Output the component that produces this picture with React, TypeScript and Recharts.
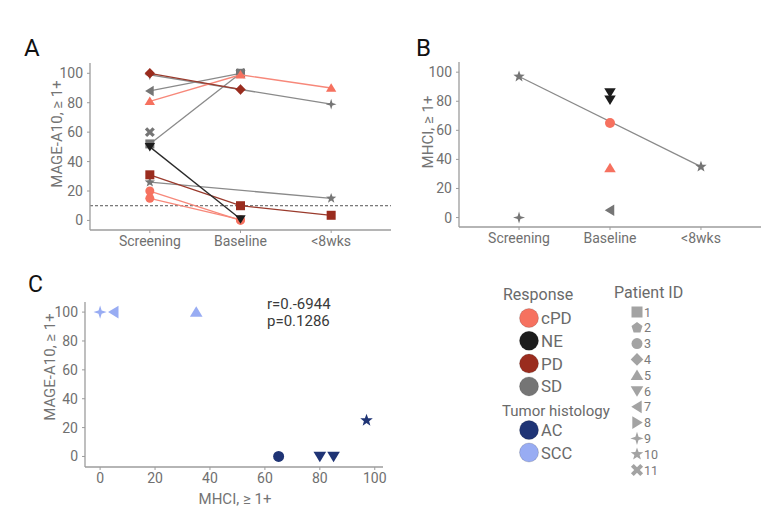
import React from 'react'
import {
  ScatterChart,
  Scatter,
  XAxis,
  YAxis,
  ReferenceLine,
} from 'recharts'

// time points used by panels A and B
const timepoints = ['Screening', 'Baseline', '<8wks']

// panel A: MAGE-A10 (% cells >= 1+) per patient over time
const mageP1 = [31, 10, 3.5]
const mageP3a = [20, 0, null]
const mageP3b = [15, 0.5, null]
const mageP4 = [100, 89, null]
const mageP5 = [81, 99, 90]
const mageP6 = [50, 1, null]
const mageP7 = [88, 100, null]
const mageP9 = [99, 89, 79]
const mageP10 = [26, null, 15]
const mageP11 = [52, 100, null]
const mageP11x = [60, 100, null]
const mageThreshold = 10

// panel B: MHCI per patient over time
const mhciP10 = [97, null, 35]
const mhciP9 = [0, null, null]
const mhciP7 = [null, 5, null]
const mhciP6a = [null, 86, null]
const mhciP6b = [null, 81, null]
const mhciP3 = [null, 65, null]
const mhciP5 = [null, 34, null]

// panel C: MHCI vs MAGE-A10
const cPatient = [9, 7, 5, 3, 6, 6, 10]
const cHistology = ['SCC', 'SCC', 'SCC', 'AC', 'AC', 'AC', 'AC']
const cMhci = [0, 5, 35, 65, 80, 85, 97]
const cMage = [100, 100, 100, 0, 0, 0, 25]

const responses = ['cPD', 'NE', 'PD', 'SD']
const histologies = ['AC', 'SCC']
const patientIds = [1, 2, 3, 4, 5, 6, 7, 8, 9, 10, 11]

const colors: Record<string, string> = {
  cPD: '#f6715f',
  NE: '#1c1c1c',
  PD: '#9a2c1e',
  SD: '#757575',
  AC: '#1f3475',
  SCC: '#98acf3',
}
const lineColors: Record<string, string> = {
  cPD: '#f7887a',
  NE: '#2a2a2a',
  PD: '#9a3a2c',
  SD: '#8a8a8a',
}

const shapeOf: Record<number, string> = {
  1: 'square',
  2: 'pentagon',
  3: 'circle',
  4: 'diamond',
  5: 'up',
  6: 'down',
  7: 'left',
  8: 'right',
  9: 'sparkle',
  10: 'star',
  11: 'cross',
}

function starPoints(cx: number, cy: number, n: number, outer: number, inner: number) {
  const pts: string[] = []
  for (let i = 0; i < n * 2; i++) {
    const r = i % 2 === 0 ? outer : inner
    const a = -Math.PI / 2 + (i * Math.PI) / n
    pts.push(`${cx + r * Math.cos(a)},${cy + r * Math.sin(a)}`)
  }
  return pts.join(' ')
}

function Marker({ kind, cx, cy, s, fill }: { kind: string; cx: number; cy: number; s: number; fill: string }) {
  const h = s / 2
  switch (kind) {
    case 'square':
      return <rect x={cx - h} y={cy - h} width={s} height={s} fill={fill} />
    case 'circle':
      return <circle cx={cx} cy={cy} r={h} fill={fill} />
    case 'diamond': {
      const d = h * 1.15
      return <polygon points={`${cx},${cy - d} ${cx + d},${cy} ${cx},${cy + d} ${cx - d},${cy}`} fill={fill} />
    }
    case 'up':
      return <polygon points={`${cx},${cy - h * 1.05} ${cx + h * 1.15},${cy + h * 0.85} ${cx - h * 1.15},${cy + h * 0.85}`} fill={fill} />
    case 'down':
      return <polygon points={`${cx},${cy + h * 1.05} ${cx + h * 1.15},${cy - h * 0.85} ${cx - h * 1.15},${cy - h * 0.85}`} fill={fill} />
    case 'left':
      return <polygon points={`${cx - h * 1.05},${cy} ${cx + h * 0.85},${cy - h * 1.15} ${cx + h * 0.85},${cy + h * 1.15}`} fill={fill} />
    case 'right':
      return <polygon points={`${cx + h * 1.05},${cy} ${cx - h * 0.85},${cy - h * 1.15} ${cx - h * 0.85},${cy + h * 1.15}`} fill={fill} />
    case 'sparkle':
      return <polygon points={starPoints(cx, cy, 4, h * 1.2, h * 0.4)} fill={fill} />
    case 'star':
      return <polygon points={starPoints(cx, cy, 5, h * 1.2, h * 0.5)} fill={fill} />
    case 'pentagon':
      return <polygon points={starPoints(cx, cy, 5, h * 1.05, h * 1.05 * Math.cos(Math.PI / 5))} fill={fill} />
    case 'cross': {
      const d = h * 0.85
      return (
        <g stroke={fill} strokeWidth={s * 0.36}>
          <line x1={cx - d} y1={cy - d} x2={cx + d} y2={cy + d} />
          <line x1={cx - d} y1={cy + d} x2={cx + d} y2={cy - d} />
        </g>
      )
    }
    default:
      return null
  }
}

const toPoints = (vals: (number | null)[]) =>
  vals.flatMap((y, i) => (y == null ? [] : [{ x: i + 1, y }]))

interface TimeSeries {
  values: (number | null)[]
  patient: number
  response: string
  line: boolean
}

const panelA: TimeSeries[] = [
  { values: mageP7, patient: 7, response: 'SD', line: true },
  { values: mageP9, patient: 9, response: 'SD', line: true },
  { values: mageP10, patient: 10, response: 'SD', line: true },
  { values: mageP11, patient: 1, response: 'SD', line: true },
  { values: mageP11x, patient: 11, response: 'SD', line: false },
  { values: mageP3a, patient: 3, response: 'cPD', line: true },
  { values: mageP3b, patient: 3, response: 'cPD', line: true },
  { values: mageP5, patient: 5, response: 'cPD', line: true },
  { values: mageP1, patient: 1, response: 'PD', line: true },
  { values: mageP4, patient: 4, response: 'PD', line: true },
  { values: mageP6, patient: 6, response: 'NE', line: true },
]

const panelB: TimeSeries[] = [
  { values: mhciP10, patient: 10, response: 'SD', line: true },
  { values: mhciP9, patient: 9, response: 'SD', line: false },
  { values: mhciP7, patient: 7, response: 'SD', line: false },
  { values: mhciP6a, patient: 6, response: 'NE', line: false },
  { values: mhciP6b, patient: 6, response: 'NE', line: false },
  { values: mhciP3, patient: 3, response: 'cPD', line: false },
  { values: mhciP5, patient: 5, response: 'cPD', line: false },
]

const cTable = cMhci.map((x, i) => ({ x, y: cMage[i], patient: cPatient[i], histology: cHistology[i] }))

const axisColor = '#9c9c9c'
const tickStyle = { fill: '#707070', fontSize: 14, fontFamily: 'Roboto' }
const yTicks = [0, 20, 40, 60, 80, 100]

function TimeChart({ series, width, height, margin, xHeight, size, refY }: {
  series: TimeSeries[]
  width: number
  height: number
  margin: { top: number; right: number; bottom: number; left: number }
  xHeight: number
  size: number
  refY?: number
}) {
  return (
    <ScatterChart width={width} height={height} margin={margin}>
      <XAxis
        type="number"
        dataKey="x"
        domain={[0.34, 3.66]}
        ticks={[1, 2, 3]}
        allowDataOverflow
        tickFormatter={(v: number) => timepoints[v - 1] ?? ''}
        height={xHeight}
        axisLine={{ stroke: axisColor, strokeWidth: 1.3 }}
        tickLine={{ stroke: axisColor }}
        tickSize={3}
        tickMargin={3}
        tick={tickStyle}
      />
      <YAxis
        type="number"
        dataKey="y"
        domain={[-6.5, 107]}
        ticks={yTicks}
        allowDataOverflow
        width={40}
        axisLine={{ stroke: axisColor, strokeWidth: 1.3 }}
        tickLine={{ stroke: axisColor }}
        tickSize={3}
        tickMargin={4}
        tick={tickStyle}
      />
      {refY != null && (
        <ReferenceLine y={refY} stroke="#555" strokeDasharray="3 2" strokeWidth={1} />
      )}
      {series.map((s, i) => (
        <Scatter
          key={i}
          data={toPoints(s.values)}
          isAnimationActive={false}
          line={s.line ? { stroke: lineColors[s.response], strokeWidth: 1.3 } : false}
          shape={(p: any) => (
            <Marker kind={shapeOf[s.patient]} cx={p.cx} cy={p.cy} s={size} fill={colors[s.response]} />
          )}
        />
      ))}
    </ScatterChart>
  )
}

export default function App() {
  const font = 'Roboto, "Noto Sans", sans-serif'
  return (
    <div style={{ position: 'absolute', left: 0, top: 0, width: 776, height: 523, background: '#fff', fontFamily: font }}>
      {/* A */}
      <div style={{ position: 'absolute', left: 0, top: 0 }}>
        <TimeChart
          series={panelA}
          width={400}
          height={260}
          margin={{ top: 63, right: 9, bottom: 0, left: 50 }}
          xHeight={30}
          size={9}
          refY={mageThreshold}
        />
      </div>
      {/* B */}
      <div style={{ position: 'absolute', left: 400, top: 0 }}>
        <TimeChart
          series={panelB}
          width={370}
          height={260}
          margin={{ top: 62, right: 9, bottom: 0, left: 19 }}
          xHeight={33}
          size={10}
        />
      </div>
      {/* C */}
      <div style={{ position: 'absolute', left: 0, top: 260 }}>
        <ScatterChart width={400} height={260} margin={{ top: 42, right: 17, bottom: 23, left: 45 }}>
          <XAxis
            type="number"
            dataKey="x"
            domain={[-5.5, 103]}
            ticks={[0, 20, 40, 60, 80, 100]}
            allowDataOverflow
            height={30}
            axisLine={{ stroke: axisColor, strokeWidth: 1.3 }}
            tickLine={{ stroke: axisColor }}
            tickSize={3}
            tickMargin={3}
            tick={tickStyle}
          />
          <YAxis
            type="number"
            dataKey="y"
            domain={[-7.3, 107]}
            ticks={yTicks}
            allowDataOverflow
            width={40}
            axisLine={{ stroke: axisColor, strokeWidth: 1.3 }}
            tickLine={{ stroke: axisColor }}
            tickSize={3}
            tickMargin={4}
            tick={tickStyle}
          />
          {histologies.map((h) => (
            <Scatter
              key={h}
              data={cTable.filter((d) => d.histology === h)}
              isAnimationActive={false}
              shape={(p: any) => (
                <Marker kind={shapeOf[p.payload.patient]} cx={p.cx} cy={p.cy} s={11} fill={colors[h]} />
              )}
            />
          ))}
        </ScatterChart>
      </div>

      {/* labels, annotation and legends */}
      <svg width={776} height={523} style={{ position: 'absolute', left: 0, top: 0, pointerEvents: 'none' }} fontFamily={font}>
        <text x={24} y={56} fontSize={24} fill="#111">A</text>
        <text x={416} y={56} fontSize={24} fill="#111">B</text>
        <text x={28} y={292} fontSize={23} fill="#111">C</text>

        <text transform="translate(62,134) rotate(-90)" textAnchor="middle" fontSize={15} fill="#747474">MAGE-A10, ≥ 1+</text>
        <text transform="translate(433,132) rotate(-90)" textAnchor="middle" fontSize={15} fill="#747474">MHCI, ≥ 1+</text>
        <text transform="translate(55,367) rotate(-90)" textAnchor="middle" fontSize={15} fill="#747474">MAGE-A10, ≥ 1+</text>
        <text x={235} y={504} textAnchor="middle" fontSize={15} fill="#747474">MHCI, ≥ 1+</text>

        <text x={267} y={309} fontSize={15} fill="#3a3a3a">r=0.-6944</text>
        <text x={267} y={326} fontSize={15} fill="#3a3a3a">p=0.1286</text>

        <text x={503} y={300} fontSize={16} fill="#6a6a6a">Response</text>
        {responses.map((r, i) => (
          <g key={r}>
            <circle cx={529} cy={318 + i * 22.8} r={9.5} fill={colors[r]} stroke="rgba(0,0,0,0.15)" />
            <text x={541} y={324 + i * 22.8} fontSize={17} fill="#6a6a6a">{r}</text>
          </g>
        ))}
        <text x={502} y={415.5} fontSize={15} fill="#6a6a6a">Tumor histology</text>
        {histologies.map((h, i) => (
          <g key={h}>
            <circle cx={529} cy={430 + i * 22.5} r={9.5} fill={colors[h]} stroke="rgba(0,0,0,0.15)" />
            <text x={541} y={436 + i * 22.5} fontSize={16.5} fill="#6a6a6a">{h}</text>
          </g>
        ))}
        <text x={614} y={298} fontSize={16} fill="#6a6a6a">Patient ID</text>
        {patientIds.map((id, i) => (
          <g key={id}>
            <Marker kind={shapeOf[id]} cx={637} cy={312 + i * 15.8} s={11} fill="#a3a3a3" />
            <text x={644} y={316.5 + i * 15.8} fontSize={12.5} fill="#7a7a7a">{id}</text>
          </g>
        ))}
      </svg>
    </div>
  )
}
